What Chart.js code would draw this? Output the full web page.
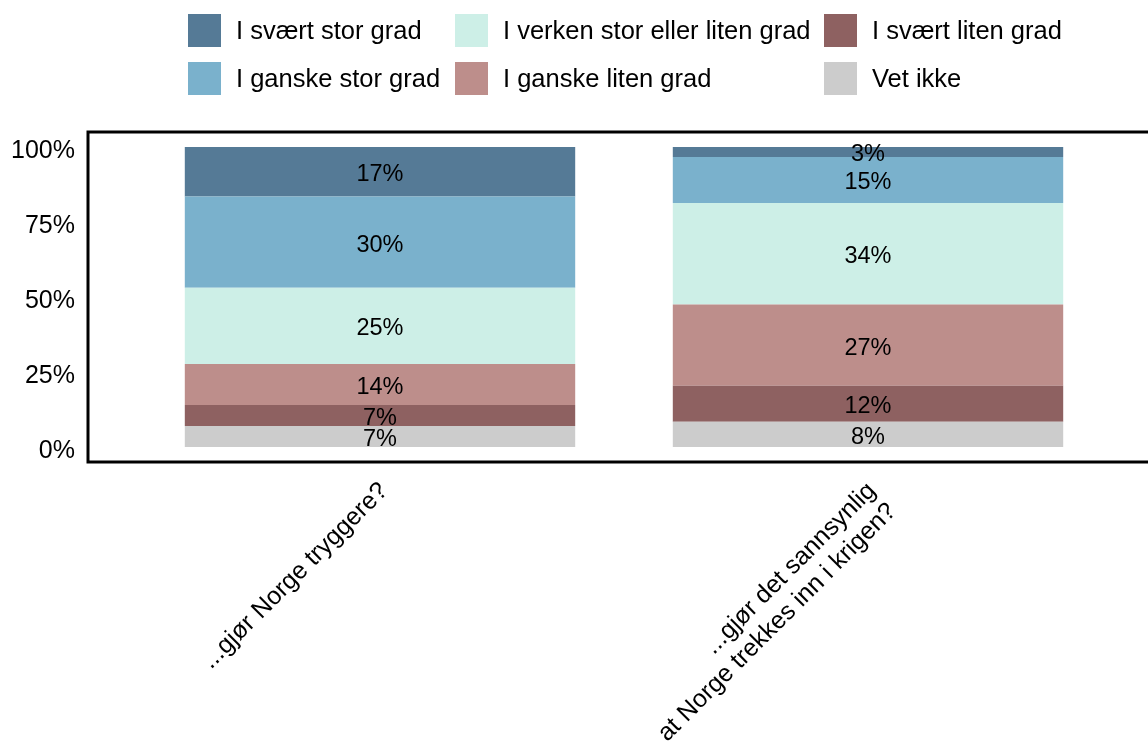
<!DOCTYPE html>
<html>
<head>
<meta charset="utf-8">
<script src="https://cdn.jsdelivr.net/npm/chart.js@4"></script>
<style>
  html, body { margin: 0; padding: 0; background: #fff; }
  #wrap { position: relative; width: 1148px; height: 744px; overflow: hidden; }
  #graficoStack { position: absolute; left: 0; top: 0; }
  #legend { position: absolute; left: 0; top: 0; width: 1148px; height: 110px;
            font-family: "Liberation Sans", Arial, sans-serif; font-size: 25.5px; color: #000; }
  .item { position: absolute; display: flex; align-items: center; height: 33px; white-space: nowrap; }
  .box { width: 33px; height: 33px; margin-right: 15px; flex: none; }
</style>
</head>
<body>
<div id="wrap">
  <canvas id="graficoStack" width="1148" height="744"></canvas>
  <div id="legend"></div>
</div>
<script>
const categorias = ['...gjør Norge tryggere?', ['...gjør det sannsynlig', 'at Norge trekkes inn i krigen?']];
const serieNavn = ['I svært stor grad', 'I ganske stor grad', 'I verken stor eller liten grad',
                   'I ganske liten grad', 'I svært liten grad', 'Vet ikke'];
const sværtStor = [16.5, 3.3];
const ganskeStor = [30.4, 15.4];
const verken = [25.4, 33.8];
const ganskeLiten = [13.7, 27.1];
const sværtLiten = [7.0, 12.0];
const vetIkke = [7.0, 8.4];
const yTicks = [0, 25, 50, 75, 100];
const farger = ['#557a96', '#7ab1cc', '#cdefe7', '#bd8e8b', '#8e6161', '#cccccc'];

const verdier = [sværtStor, ganskeStor, verken, ganskeLiten, sværtLiten, vetIkke];

// stacking from bottom: Vet ikke first
const datasets = verdier.map(function(v, i) {
    return { label: serieNavn[i], data: v, backgroundColor: farger[i], borderWidth: 0 };
}).reverse();

// legend, column-wise 3 x 2
const legendPos = [[188, 14], [188, 62], [455, 14], [455, 62], [824, 14], [824, 62]];
const legendEl = document.getElementById('legend');
serieNavn.forEach(function(navn, i) {
    const d = document.createElement('div');
    d.className = 'item';
    d.style.left = legendPos[i][0] + 'px';
    d.style.top = legendPos[i][1] + 'px';
    d.innerHTML = '<span class="box" style="background:' + farger[i] + '"></span><span>' + navn + '</span>';
    legendEl.appendChild(d);
});

const rammePlugin = {
    id: 'ramme',
    beforeDatasetsDraw: function(chart) {
        const a = chart.chartArea, c = chart.ctx;
        c.save();
        c.strokeStyle = '#000';
        c.lineWidth = 3;
        c.beginPath();
        c.moveTo(chart.width + 10, a.top);
        c.lineTo(a.left - 48, a.top);
        c.lineTo(a.left - 48, a.bottom);
        c.lineTo(chart.width + 10, a.bottom);
        c.stroke();
        c.restore();
    }
};

const etikettPlugin = {
    id: 'etiketter',
    afterDatasetsDraw: function(chart) {
        const c = chart.ctx;
        c.save();
        c.font = '23.5px "Liberation Sans", Arial, sans-serif';
        c.fillStyle = '#000';
        c.textAlign = 'center';
        c.textBaseline = 'middle';
        chart.data.datasets.forEach(function(ds, di) {
            chart.getDatasetMeta(di).data.forEach(function(el, j) {
                const p = el.getProps(['x', 'y', 'base'], true);
                c.fillText(Math.round(ds.data[j]) + '%', p.x, (p.y + p.base) / 2 + 3);
            });
        });
        c.restore();
    }
};

const ctx = document.getElementById('graficoStack').getContext('2d');
new Chart(ctx, {
    type: 'bar',
    data: { labels: categorias, datasets: datasets },
    plugins: [rammePlugin, etikettPlugin],
    options: {
        responsive: false,
        animation: false,
        devicePixelRatio: 1,
        layout: { padding: { top: 132, right: 36, left: 0, bottom: 0 } },
        plugins: { legend: { display: false }, tooltip: { enabled: false } },
        datasets: { bar: { categoryPercentage: 1.0, barPercentage: 0.8 } },
        scales: {
            x: {
                stacked: true,
                grid: { display: false },
                border: { display: false },
                afterFit: function(s) { s.height = 282; },
                ticks: {
                    autoSkip: false, minRotation: 45, maxRotation: 45, padding: 7,
                    labelOffset: 4,
                    color: '#000',
                    font: { family: '"Liberation Sans", Arial, sans-serif', size: 25, lineHeight: 1.15 }
                }
            },
            y: {
                stacked: true,
                min: -5, max: 105,
                grid: { display: false },
                border: { display: false },
                afterFit: function(s) { s.width = 136; },
                afterBuildTicks: function(s) { s.ticks = yTicks.map(function(v) { return { value: v }; }); },
                ticks: {
                    padding: 53,
                    labelOffset: 4,
                    color: '#000',
                    font: { family: '"Liberation Sans", Arial, sans-serif', size: 25 },
                    callback: function(v) { return v + '%'; }
                }
            }
        }
    }
});
</script>
</body>
</html>
